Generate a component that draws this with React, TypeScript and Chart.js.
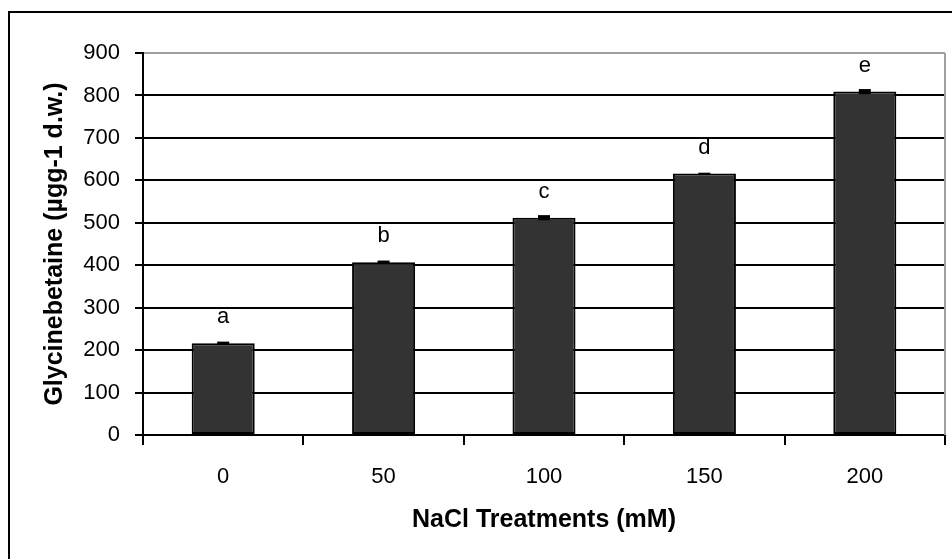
import React, { useEffect, useRef } from "react";
import { Chart, registerables } from "chart.js";

Chart.register(...registerables);

const categories = ["0", "50", "100", "150", "200"];
const glycinebetaine = [216, 407, 512, 616, 809];
const errors = [4, 4, 6, 2, 6];
const letters = ["a", "b", "c", "d", "e"];
const yMin = 0;
const yMax = 900;
const yStep = 100;
const xTitle = "NaCl Treatments (mM)";
const yTitle = "Glycinebetaine (µgg-1 d.w.)";

const FONT = "'Liberation Sans', Arial, sans-serif";

const decorPlugin = {
  id: "decor",
  afterDatasetsDraw(chart: any) {
    const { ctx, chartArea } = chart;
    const yScale = chart.scales.y;
    const meta = chart.getDatasetMeta(0);
    ctx.save();
    // plot area right border
    ctx.strokeStyle = "#a0a0a0";
    ctx.lineWidth = 2;
    ctx.beginPath();
    ctx.moveTo(chartArea.right, chartArea.top);
    ctx.lineTo(chartArea.right, chartArea.bottom);
    ctx.stroke();
    // error bars and letters
    meta.data.forEach((bar: any, i: number) => {
      const v = glycinebetaine[i];
      const e = errors[i];
      const yTop = yScale.getPixelForValue(v + e);
      const yBot = yScale.getPixelForValue(v - e);
      ctx.fillStyle = "#000";
      ctx.fillRect(bar.x - 6, yTop, 12, Math.max(2, yBot - yTop));
      ctx.font = `22px ${FONT}`;
      ctx.textAlign = "center";
      ctx.textBaseline = "middle";
      ctx.fillText(letters[i], bar.x, yScale.getPixelForValue(v) - 26);
    });
    ctx.restore();
  },
};

export default function App() {
  const canvasRef = useRef<HTMLCanvasElement | null>(null);

  useEffect(() => {
    if (!canvasRef.current) return;
    const chart = new Chart(canvasRef.current, {
      type: "bar",
      data: {
        labels: categories,
        datasets: [
          {
            data: glycinebetaine,
            backgroundColor: "#333333",
            borderColor: "#000000",
            borderWidth: 2,
            borderSkipped: false,
            categoryPercentage: 1,
            barPercentage: 0.393,
          },
        ],
      },
      options: {
        animation: false,
        responsive: true,
        maintainAspectRatio: false,
        layout: { padding: { top: 53, right: 7, left: 0, bottom: 0 } },
        plugins: {
          legend: { display: false },
          tooltip: { enabled: false },
        },
        scales: {
          x: {
            type: "category",
            offset: true,
            grid: {
              offset: true,
              drawOnChartArea: false,
              drawTicks: true,
              tickLength: 10,
              color: "#000",
              lineWidth: 2,
            },
            border: { color: "#000", width: 2 },
            ticks: {
              color: "#000",
              font: { family: FONT, size: 22 },
              padding: 19,
              maxRotation: 0,
            },
            title: {
              display: true,
              text: xTitle,
              color: "#000",
              font: { family: FONT, size: 25, weight: "bold" },
              padding: { top: 0, bottom: 24 },
            },
            afterFit: (s: any) => {
              s.height = 124;
            },
          },
          y: {
            min: yMin,
            max: yMax,
            ticks: {
              stepSize: yStep,
              color: "#000",
              font: { family: FONT, size: 22 },
              padding: 15,
            },
            grid: {
              color: (c: any) => (c.tick && c.tick.value === yMax ? "#a0a0a0" : "#000"),
              lineWidth: 2,
              tickColor: "#000",
              tickLength: 8,
              drawTicks: true,
            },
            border: { color: "#000", width: 2 },
            title: {
              display: true,
              text: yTitle,
              color: "#000",
              font: { family: FONT, size: 25, weight: "bold" },
              padding: { top: 40, bottom: 0 },
            },
            afterFit: (s: any) => {
              s.width = 143;
            },
          },
        },
      },
      plugins: [decorPlugin],
    } as any);
    return () => chart.destroy();
  }, []);

  return (
    <div
      style={{
        position: "absolute",
        left: 0,
        top: 0,
        width: 952,
        height: 559,
        overflow: "hidden",
        background: "#fff",
      }}
    >
      <div
        style={{
          position: "absolute",
          left: 8,
          top: 11,
          width: 2000,
          height: 2000,
          border: "2px solid #000",
        }}
      />
      <div style={{ position: "absolute", left: 0, top: 0, width: 952, height: 559 }}>
        <canvas ref={canvasRef} />
      </div>
    </div>
  );
}
